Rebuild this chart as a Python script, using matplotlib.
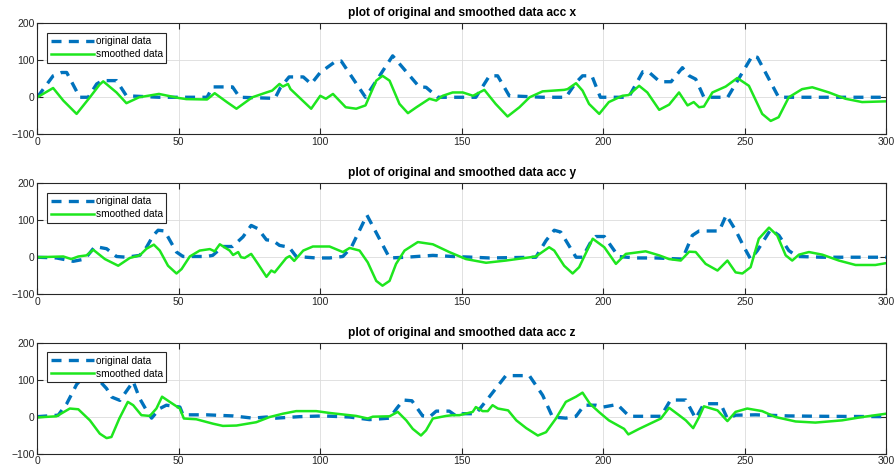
"""Original vs smoothed accelerometer data, three axes."""

import matplotlib

matplotlib.use("Agg")
import matplotlib.pyplot as plt

plt.rcParams["font.family"] = ["Liberation Sans", "DejaVu Sans"]

# acc x
acc_x_orig_t = [0, 5.6, 8.6, 10.4, 15, 18, 21, 23, 28, 31.5, 43, 60, 62, 69, 71.5, 84, 86, 89, 94,
                96.8, 100, 105.6, 107.4, 116, 125.6, 135, 137.4, 141.5, 155, 159.8, 162.7, 166.8,
                178.6, 186.8, 190.4, 192.7, 196, 199, 209, 214, 216, 220, 224, 228, 230.4, 232.7,
                235.6, 244, 252.7, 254.5, 262, 300]
acc_x_orig = [0, 58, 67, 67, 0, 0, 36, 45, 45, 4, 0, 0, 28, 28, 0, -3, 27, 55, 55,
              36, 67, 98, 98, 0, 112, 28, 27, 0, 0, 58, 58, 4,
              0, 0, 40, 58, 58, 0, 0, 69, 69, 42, 42, 80, 58, 49,
              0, 0, 112, 108, 0, 0]
acc_x_smooth_t = [0, 5.6, 9.2, 13.9, 18.6, 22, 23.3, 28, 31.5, 36, 43, 50, 52.7, 60, 62.7, 67, 70.4,
                  76, 81, 83, 85.6, 86.8, 88.6, 89.5, 96.8, 100, 102, 104.5, 109, 112.7, 116, 119.8,
                  122, 124.5, 128, 131, 134, 138.6, 141, 143.3, 146.8, 150.4, 154, 158, 162, 166.2,
                  170.4, 174, 178.6, 186.2, 187.4, 190.4, 192.7, 195, 198.6, 202, 206.8, 209, 212.7,
                  215.6, 219.8, 223.3, 226.8, 229.8, 232, 233.9, 235.6, 238.6, 243.3, 247.4, 251.5,
                  256.2, 259.2, 262, 265.6, 270.3, 273.9, 279.8, 285.6, 291.5, 300]
acc_x_smooth = [0, 25, -9, -45, 0, 34, 43, 13, -16, 0, 9, -2, -5, -6, 11, -13, -31,
                0, 13, 18, 36, 29, 36, 22, -31, 4, -4, 9, -27, -31, -22, 45,
                58, 45, -18, -43, -27, -4, -9, 4, 13, 13, 4, 20, -18, -52,
                -27, 0, 16, 20, 22, 38, 18, -18, -45, -13, 4, 6, 31,
                13, -34, -20, 13, -22, -13, -27, -25, 13, 29, 52, 31,
                -45, -64, -54, 0, 22, 27, 13, -4, -13, -11]

# acc y
acc_y_orig_t = [0, 6.8, 12.7, 16.8, 20.4, 24.5, 28, 31.5, 36.2, 38.6, 41, 42.7, 45, 49.2, 51.5,
                59.8, 62, 65.6, 69, 72.7, 75.6, 78, 81, 83.3, 85.6, 89, 91.5, 98.6, 103.3, 108,
                111, 116.5, 124.5, 130.4, 139.8, 146.8, 153.9, 159.8, 176.2, 179.8, 182.7, 185,
                190.4, 192.7, 195.6, 197.4, 200.4, 205.4, 211.5, 218.6, 228, 231.5, 233.9, 241,
                243.5, 246.8, 249.8, 252.1, 254.5, 259.2, 262.1, 265.6, 268.6, 277.4, 300]
acc_y_orig = [0, -2, -11, -5, 29, 23, 2, 0, 5, 27, 59, 73, 71, 14, 2,
              2, 5, 29, 29, 55, 86, 77, 47, 45, 32, 27, 2, -2, -2, 2,
              27, 114, -2, 0, 5, 2, 0, -2, 0, 45, 73, 68,
              0, 0, 41, 56, 56, 2, -2, -2, -5, 59, 71, 71,
              114, 73, 27, -5, 18, 75, 59, 18, 2, 0, 0]
acc_y_smooth_t = [0, 9.2, 12, 14.5, 17.4, 19.8, 23.9, 28.6, 32.7, 36.2, 38.6, 41.2, 43.3, 46.2,
                  49.2, 51, 53.9, 57.4, 61, 62.7, 64.5, 68, 69.2, 71, 72, 73.3, 75.6, 78, 81, 82.7,
                  83.9, 88, 89.2, 90.8, 94, 97.4, 103.3, 108, 110.4, 113.9, 116.8, 119.8, 122,
                  124.5, 126.8, 129.8, 134.5, 139.8, 145.6, 151.5, 158.6, 165.6, 176.2, 180.9,
                  182.7, 186.2, 189.2, 191.5, 196.3, 200.4, 204.5, 208, 215, 219.8, 223.3, 227.4,
                  230.4, 232.7, 236.2, 240.4, 243.9, 246.8, 249.2, 252.1, 255, 258.6, 261.5, 264.5,
                  266.8, 269.2, 272.7, 277.4, 283.3, 289.2, 296.2, 300]
acc_y_smooth = [0, 2, -5, 2, 5, 20, -5, -23, -2, 5, 23, 34, 18, -23,
                -44, -32, 2, 18, 22, 16, 35, 18, 6, 14, 0, -2, 9, -18, -53, -36,
                -41, -2, 3, -10, 18, 29, 29, 14, 25, 18, -14, -64, -77,
                -64, -18, 18, 41, 35, 14, -5, -15, -9, 2, 27,
                18, -23, -44, -27, 50, 27, -18, 9, 16, 5, -5, -9,
                15, 14, -18, -36, -9, -41, -44, -27, 50, 80, 59, 5,
                -9, 7, 14, 7, -9, -21, -21, -16]

# acc z
acc_z_orig_t = [0, 7.4, 10.4, 13.9, 16, 21, 24.5, 26.3, 29.2, 33.9, 36.2, 38.6, 40.4, 43.3, 45.6,
                50.4, 51.5, 59.8, 69.2, 76.2, 81, 84.4, 92.7, 101, 110.4, 117.4, 124.5, 127, 129.4,
                132.4, 136.2, 138.6, 141, 145.6, 148, 150.4, 155, 157.4, 159.8, 165.6, 173.9,
                178.6, 182.1, 186.8, 190.4, 193.3, 197.4, 200, 205, 209.2, 220.4, 223.8, 229.2,
                232.7, 235.6, 241.5, 243.9, 246.8, 253.9, 265.6, 277.4, 300]
acc_z_orig = [0, 4, 35, 87, 105, 105, 76, 53, 44, 95, 49, 17, -4, 22, 31,
              26, 5, 5, 2, -4, -1, -4, 0, 2, -1, -8, -4, 22, 45,
              43, 2, -1, 15, 15, 2, 8, 8, 31, 54, 111, 111,
              58, -1, -4, 1, 31, 31, 26, 33, 1, 1, 45, 45,
              -5, 35, 35, -5, 4, 5, 2, 1, 0]
acc_z_smooth_t = [0, 6.8, 11.5, 14.5, 18.6, 22.1, 24.5, 26.2, 29, 32, 33.9, 36.8, 39.8, 42.1, 44.1,
                  46.8, 50.4, 51.8, 56.2, 62.1, 65.6, 70.4, 77.4, 82.1, 86.8, 91.5, 98.6, 103.3,
                  112.7, 116.8, 118.6, 124.5, 127.4, 130.4, 132.7, 135.6, 137.4, 139.8, 144.5,
                  146.8, 149.2, 153.9, 155, 157.4, 159.2, 160.9, 162.8, 166.4, 169.3, 172.8, 176.9,
                  179.8, 183.3, 186.8, 190.4, 192.7, 195.3, 198.6, 202, 207.4, 208.9, 212.7, 220.4,
                  223.3, 226.8, 229.2, 231.8, 233.9, 235.6, 240.4, 243.9, 246.8, 250.9, 256.2,
                  260.9, 268, 275, 284.4, 291.5, 300]
acc_z_smooth = [-2, 1, 22, 20, -10, -46, -58, -55, -5, 40, 31, 4, 2, 22, 54,
                40, 22, -5, -7, -19, -25, -24, -15, -1, 8, 15, 15, 10,
                2, -5, 0, 1, 13, -10, -33, -51, -37, -5, 2,
                4, 4, 13, 26, 15, 15, 31, 22, 17, -10, -31, -51,
                -42, -5, 40, 54, 65, 35, 12, -10, -33, -48, -33, -5,
                24, 4, -10, -31, -1, 28, 17, -12, 13, 22, 15,
                -1, -13, -16, -10, -1, 8]

panels = [
    ("acc x", acc_x_orig_t, acc_x_orig, acc_x_smooth_t, acc_x_smooth),
    ("acc y", acc_y_orig_t, acc_y_orig, acc_y_smooth_t, acc_y_smooth),
    ("acc z", acc_z_orig_t, acc_z_orig, acc_z_smooth_t, acc_z_smooth),
]

fig = plt.figure(figsize=(8.96, 4.72), dpi=100)
tops = [0.9506, 0.6117, 0.2739]
height = 0.2350
for (name, ot, ov, st, sv), top in zip(panels, tops):
    ax = fig.add_axes([0.0416, top - height, 0.9474, height])
    ax.plot(ot, ov, color="#0072BD", linestyle="--", linewidth=2.4, dashes=(3, 2.2),
            label="original data")
    ax.plot(st, sv, color="#1ee61e", linewidth=1.8, label="smoothed data")
    ax.set_xlim(0, 300)
    ax.set_ylim(-100, 200)
    ax.set_xticks(range(0, 301, 50))
    ax.set_yticks([-100, 0, 100, 200])
    ax.grid(color="#dcdcdc", linewidth=0.6)
    ax.set_axisbelow(True)
    ax.tick_params(direction="in", top=True, right=True, labelsize=7.5,
                   colors="#262626", length=4, width=0.8, pad=2)
    for sp in ax.spines.values():
        sp.set_color("#262626")
        sp.set_linewidth(0.8)
    ax.set_title(f"plot of original and smoothed data {name}", fontsize=8.6,
                 fontweight="bold", pad=5)
    leg = ax.legend(loc="upper left", bbox_to_anchor=(0.012, 0.915), fontsize=7.3,
                    fancybox=False, framealpha=1, edgecolor="#262626",
                    handlelength=4.2, handletextpad=0.2, borderpad=0.35,
                    labelspacing=0.3, borderaxespad=0)
    leg.get_frame().set_linewidth(0.8)

fig.savefig("out.png", dpi=100)
